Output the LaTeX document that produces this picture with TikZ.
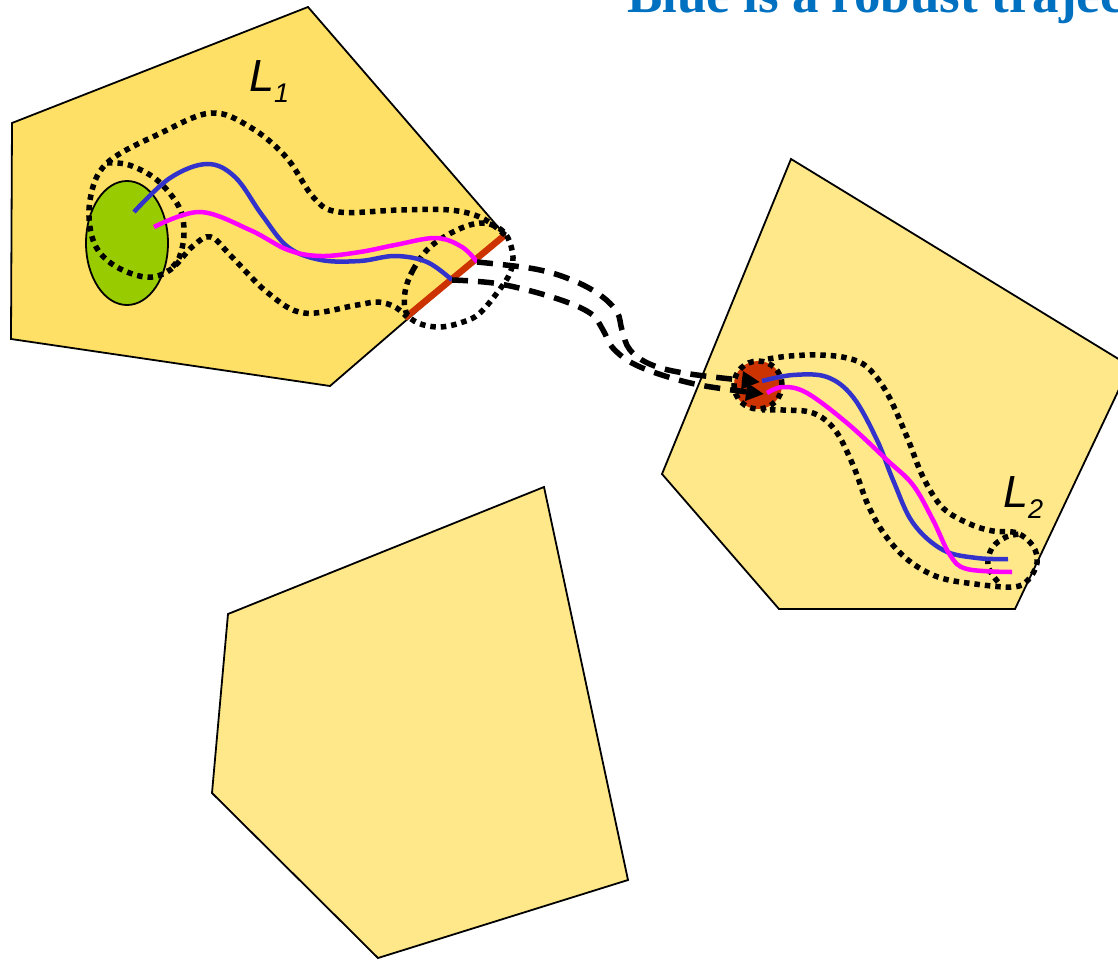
\documentclass[tikz,border=0pt]{standalone}
\usepackage{fontspec}
\setmainfont{Liberation Sans}
\newfontfamily\titlefont{Liberation Serif}
\usetikzlibrary{arrows.meta,shapes.geometric}
\definecolor{lonefill}{RGB}{255,224,102}
\definecolor{lfill}{RGB}{255,232,138}
\definecolor{greenset}{RGB}{153,204,0}
\definecolor{redset}{RGB}{204,51,0}
\definecolor{trajblue}{RGB}{51,51,204}
\definecolor{trajmag}{RGB}{255,0,255}
\definecolor{titleblue}{RGB}{0,112,192}
\tikzset{
  region/.style={draw=black, line width=1.8pt},
  tube/.style={draw=black, line width=5.5pt, dash pattern=on 5.5pt off 5pt},
  trajb/.style={draw=trajblue, line width=4.5pt},
  trajm/.style={draw=trajmag, line width=4.5pt},
  jump/.style={draw=black, line width=5.5pt, dash pattern=on 16pt off 10pt,
    -{Triangle[length=18pt,width=17pt]}},
  lbl/.style={anchor=base west, inner sep=0pt, font=\fontsize{45}{45}\selectfont\itshape}
}
\newcommand{\subidx}[1]{\raisebox{-11pt}{\fontsize{27}{27}\selectfont\itshape #1}}
\begin{document}
\begin{tikzpicture}[x=1pt,y=-1pt]
\useasboundingbox (0,0) rectangle (1118,960);
\clip (0,0) rectangle (1118,960);
% regions
\draw[region, fill=lonefill] (12,123) -- (308,7) -- (505,235) -- (330,386) -- (11,339) -- cycle;
\draw[region, fill=lfill] (791,159) -- (1130,366) -- (1015,609) -- (779,609) -- (662,474) -- cycle;
\draw[region, fill=lfill] (228,614) -- (544,487) -- (628,880) -- (378,958) -- (212,793) -- cycle;
% initial set
\node[draw=black, line width=1.8pt, fill=greenset, ellipse, minimum width=82pt, minimum height=124pt, inner sep=0pt] (init) at (127,243) {};
% guard edge
\coordinate (gtop) at (505,235);
\coordinate (gbot) at (405,318);
\draw[draw=redset, line width=6.5pt] (gbot) -- (gtop);
% target disk in L2
\node[circle, fill=redset, minimum size=48pt, inner sep=0pt] (disk) at (758,385) {};
% tube L1
\draw[tube] plot[smooth, tension=0.6] coordinates {(505,235) (482,218) (450,210) (400,210) (339,212) (314,198) (286,157) (250,127) (211,113) (161,133) (107,163) (90,200) (93,240) (112,264) (145,277) (170,270) (193,246) (211,237) (232,257) (268,293) (304,313) (357,305) (378,302) (395,307) (407,317)};
\draw[tube] plot[smooth, tension=0.6] coordinates {(107,163) (129,165) (157,180) (179,207) (184,233) (179,258) (168,271)};
\draw[tube] plot[smooth cycle, tension=0.6] coordinates {(405,292) (413,270) (430,247) (457,230) (480,223) (497,227) (508,238) (513,257) (510,273) (500,289) (480,313) (463,322) (440,327) (418,323) (406,312)};
% tube L2
\draw[tube] (disk) circle[radius=24pt];
\draw[tube] plot[smooth, tension=0.6] coordinates {(768,359) (790,356) (820,355) (847,358) (867,367) (887,393) (907,437) (923,477) (943,508) (970,524) (993,531) (1017,533) (1033,546) (1037,563) (1028,580) (1013,587) (975,584) (938,577) (908,560) (885,535) (868,505) (853,465) (835,430) (813,413) (783,410) (762,410)};
\draw[tube] plot[smooth, tension=0.6] coordinates {(998,582) (988,566) (992,548) (1006,537) (1020,534)};
% trajectories L1
\coordinate (bend1) at (452,280);
\coordinate (mend1) at (477,262);
\draw[trajb] plot[smooth, tension=0.6] coordinates {(134,212) (170,178) (207,164) (235,177) (262,215) (288,247) (321,260) (360,261) (395,256) (427,262) (bend1)};
\draw[trajm] plot[smooth, tension=0.6] coordinates {(154,227) (200,212) (250,230) (288,250) (321,256) (360,252) (395,245) (436,238) (462,247) (mend1)};
% trajectories L2
\coordinate (bstart2) at (762,381);
\coordinate (mstart2) at (767,393);
\draw[trajb] plot[smooth, tension=0.6] coordinates {(bstart2) (793,375) (827,377) (853,397) (877,440) (893,480) (913,523) (943,550) (977,558) (1008,559)};
\draw[trajm] plot[smooth, tension=0.6] coordinates {(mstart2) (783,387) (807,393) (847,423) (887,460) (913,485) (933,520) (950,555) (967,569) (1012,572)};
% jumps
\coordinate (upTip) at (760,382);
\coordinate (loTip) at (764,394);
\draw[jump] plot[smooth, tension=0.6] coordinates {(mend1) (535,269) (572,280) (600,295) (617,312) (622,330) (630,350) (652,365) (690,374) (upTip)};
\draw[jump] plot[smooth, tension=0.6] coordinates {(bend1) (500,284) (555,298) (590,313) (603,330) (612,347) (632,363) (665,376) (705,386) (loTip)};
% labels
\node[lbl] (lone) at (249,92) {L\subidx{1}};
\node[lbl] (ltwo) at (1003,507) {L\subidx{2}};
\node[anchor=base west, inner sep=0pt, text=titleblue, font=\titlefont\bfseries\fontsize{53}{53}\selectfont] (title) at (627,13) {Blue is a robust trajec};
\end{tikzpicture}
\end{document}
